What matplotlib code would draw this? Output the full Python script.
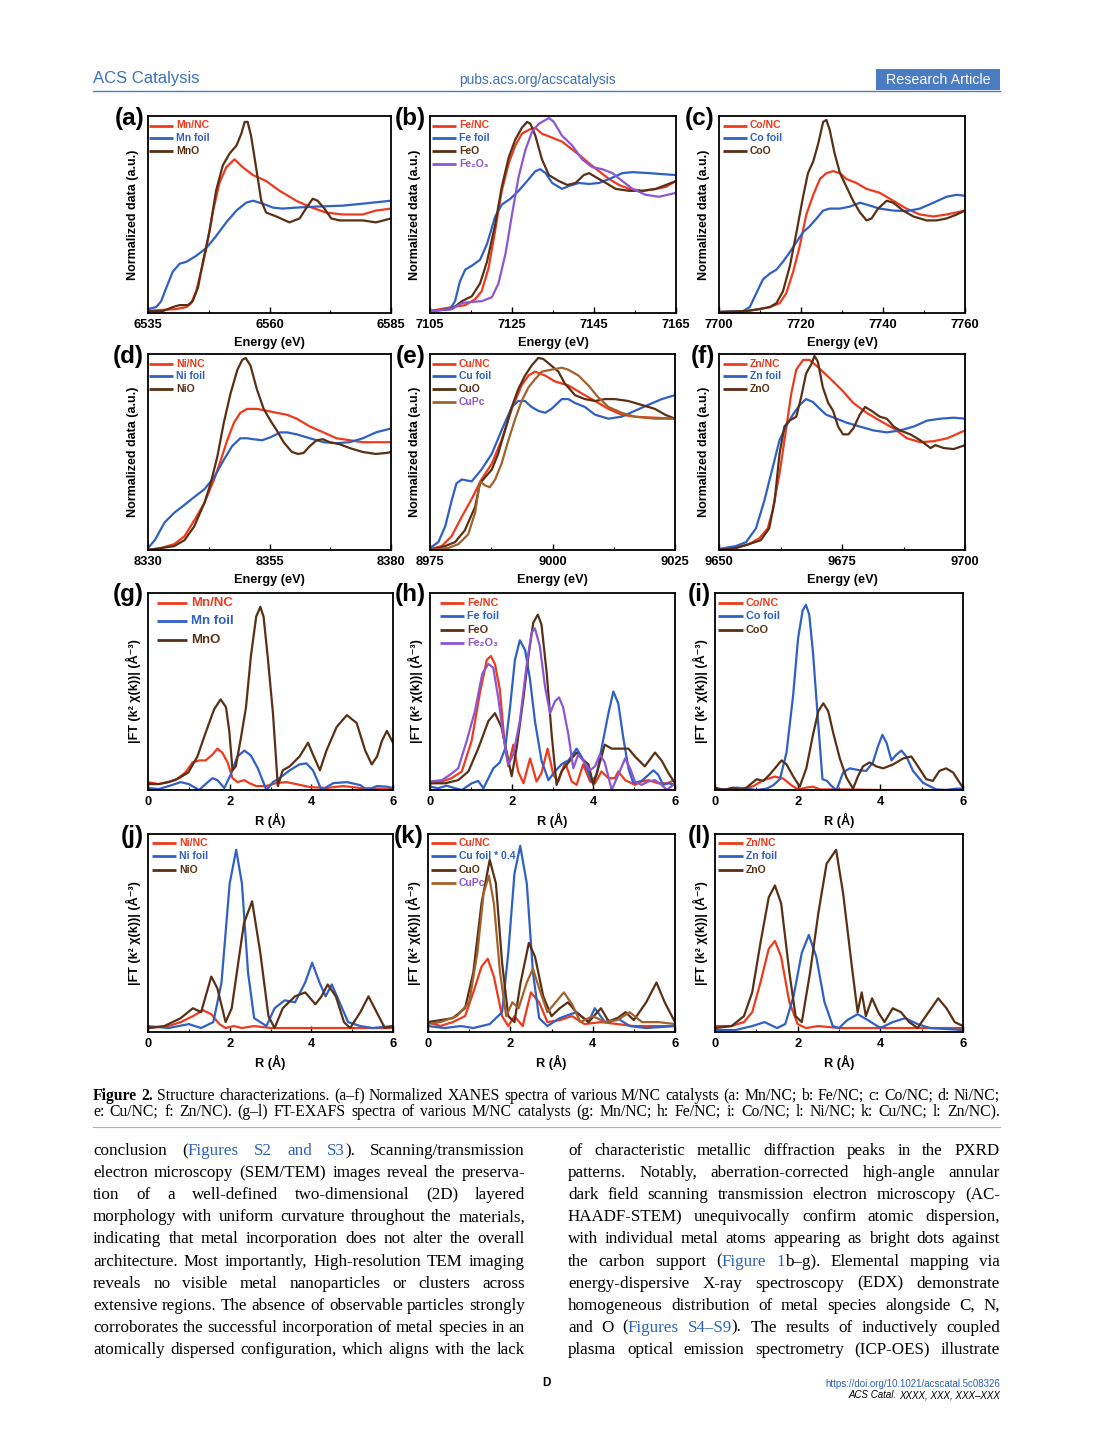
import re
import matplotlib
matplotlib.use('Agg')
import matplotlib.pyplot as plt
from matplotlib.lines import Line2D

# ---------------- DATA ----------------
# (a) Mn K-edge XANES
MnNC_E = [6535.0, 6537.4, 6540.8, 6542.9, 6543.9, 6544.9, 6546.3, 6547.0, 6548.4, 6549.7, 6551.1, 6552.8, 6554.5, 6556.6, 6559.3, 6562.1, 6565.5, 6568.2, 6571.6, 6575.1, 6579.2, 6581.9, 6585.0]
MnNC_mu = [0.01, 0.015, 0.02, 0.03, 0.05, 0.11, 0.25, 0.33, 0.52, 0.66, 0.74, 0.78, 0.74, 0.70, 0.67, 0.62, 0.57, 0.54, 0.51, 0.50, 0.50, 0.52, 0.53]
MnFoil_E = [6535.0, 6536.7, 6537.7, 6538.8, 6540.1, 6541.5, 6542.9, 6544.9, 6547.0, 6549.0, 6551.1, 6553.2, 6555.2, 6556.6, 6558.6, 6560.7, 6562.7, 6565.5, 6569.6, 6575.1, 6579.2, 6585.0]
MnFoil_mu = [0.02, 0.03, 0.06, 0.13, 0.21, 0.25, 0.26, 0.29, 0.33, 0.39, 0.46, 0.52, 0.56, 0.57, 0.555, 0.535, 0.53, 0.535, 0.54, 0.545, 0.555, 0.57]
MnO_E = [6535.0, 6538.1, 6540.1, 6541.5, 6543.2, 6544.2, 6545.3, 6546.3, 6547.7, 6549.0, 6550.4, 6551.8, 6553.2, 6554.2, 6554.9, 6555.5, 6556.2, 6557.3, 6558.3, 6559.3, 6561.4, 6564.1, 6566.2, 6567.5, 6568.9, 6569.9, 6571.3, 6572.7, 6574.4, 6576.4, 6579.2, 6581.9, 6585.0]
MnO_mu = [0.01, 0.01, 0.03, 0.04, 0.04, 0.06, 0.13, 0.26, 0.42, 0.62, 0.75, 0.81, 0.85, 0.91, 0.97, 0.97, 0.90, 0.73, 0.57, 0.51, 0.49, 0.46, 0.48, 0.53, 0.58, 0.57, 0.53, 0.48, 0.47, 0.47, 0.47, 0.46, 0.48]

# (b) Fe K-edge XANES
FeNC_E = [7105.0, 7110.3, 7113.6, 7116.0, 7117.6, 7119.3, 7120.9, 7122.5, 7124.2, 7125.8, 7127.4, 7129.1, 7130.7, 7132.3, 7134.8, 7137.2, 7139.7, 7142.1, 7143.8, 7146.2, 7148.7, 7151.1, 7153.6, 7156.8, 7160.1, 7162.5, 7165.0]
FeNC_mu = [0.01, 0.03, 0.04, 0.07, 0.11, 0.23, 0.42, 0.62, 0.76, 0.85, 0.91, 0.93, 0.94, 0.91, 0.89, 0.87, 0.83, 0.79, 0.76, 0.72, 0.68, 0.65, 0.63, 0.62, 0.63, 0.64, 0.67]
FeFoil_E = [7105.0, 7109.9, 7111.1, 7112.3, 7113.6, 7115.2, 7117.2, 7118.9, 7120.9, 7122.5, 7124.6, 7126.6, 7128.7, 7130.7, 7131.9, 7133.2, 7134.8, 7137.2, 7138.9, 7141.3, 7143.8, 7146.2, 7148.7, 7151.9, 7154.4, 7158.4, 7161.7, 7165.0]
FeFoil_mu = [0.01, 0.02, 0.06, 0.16, 0.22, 0.24, 0.27, 0.35, 0.49, 0.55, 0.58, 0.62, 0.67, 0.72, 0.73, 0.71, 0.66, 0.63, 0.645, 0.66, 0.655, 0.66, 0.68, 0.71, 0.715, 0.71, 0.705, 0.70]
FeO_E = [7105.0, 7110.3, 7112.8, 7115.2, 7117.2, 7118.9, 7120.9, 7122.5, 7124.2, 7125.8, 7127.4, 7128.7, 7129.5, 7130.7, 7132.3, 7134.0, 7136.4, 7138.5, 7140.5, 7142.5, 7143.8, 7145.4, 7147.9, 7150.3, 7153.6, 7156.8, 7160.1, 7165.0]
FeO_mu = [0.01, 0.02, 0.06, 0.085, 0.15, 0.26, 0.45, 0.64, 0.79, 0.88, 0.94, 0.97, 0.96, 0.90, 0.78, 0.70, 0.67, 0.65, 0.66, 0.70, 0.71, 0.69, 0.66, 0.63, 0.62, 0.62, 0.63, 0.67]
Fe2O3_E = [7105.0, 7110.3, 7112.8, 7114.4, 7117.6, 7120.1, 7121.7, 7123.4, 7125.0, 7126.6, 7128.3, 7129.9, 7131.5, 7133.2, 7134.0, 7135.2, 7137.2, 7139.7, 7142.1, 7144.6, 7147.0, 7149.5, 7151.9, 7154.4, 7157.6, 7160.9, 7165.0]
Fe2O3_mu = [0.01, 0.02, 0.05, 0.055, 0.06, 0.08, 0.15, 0.30, 0.50, 0.69, 0.83, 0.92, 0.96, 0.98, 0.99, 0.97, 0.90, 0.85, 0.78, 0.74, 0.73, 0.71, 0.67, 0.63, 0.60, 0.59, 0.61]

# (c) Co K-edge XANES
CoNC_E = [7700.0, 7706.7, 7709.9, 7712.4, 7714.8, 7716.4, 7718.1, 7719.7, 7721.3, 7723.0, 7724.6, 7726.2, 7727.8, 7729.5, 7731.1, 7733.5, 7736.0, 7739.2, 7742.5, 7745.7, 7749.0, 7752.3, 7755.5, 7760.0]
CoNC_mu = [0.005, 0.01, 0.02, 0.03, 0.05, 0.10, 0.21, 0.34, 0.50, 0.60, 0.68, 0.71, 0.72, 0.71, 0.68, 0.66, 0.63, 0.61, 0.57, 0.53, 0.50, 0.49, 0.50, 0.52]
CoFoil_E = [7700.0, 7705.9, 7707.5, 7709.1, 7710.7, 7712.4, 7714.0, 7715.6, 7717.3, 7718.9, 7720.5, 7722.1, 7723.8, 7725.4, 7727.0, 7729.5, 7731.9, 7734.4, 7736.0, 7739.2, 7742.5, 7745.7, 7749.0, 7752.3, 7755.5, 7758.0, 7760.0]
CoFoil_mu = [0.005, 0.01, 0.03, 0.10, 0.17, 0.20, 0.22, 0.26, 0.31, 0.36, 0.41, 0.44, 0.48, 0.52, 0.53, 0.53, 0.54, 0.56, 0.55, 0.53, 0.52, 0.517, 0.53, 0.56, 0.59, 0.60, 0.595]
CoO_E = [7700.0, 7706.7, 7709.9, 7712.4, 7714.0, 7715.6, 7717.3, 7718.9, 7720.5, 7721.7, 7723.0, 7724.2, 7725.4, 7726.2, 7727.0, 7728.2, 7729.5, 7731.1, 7732.7, 7734.4, 7736.0, 7737.2, 7738.8, 7740.9, 7742.5, 7744.9, 7747.4, 7750.6, 7753.1, 7755.5, 7758.0, 7760.0]
CoO_mu = [0.005, 0.01, 0.02, 0.03, 0.05, 0.11, 0.24, 0.41, 0.59, 0.71, 0.77, 0.86, 0.97, 0.98, 0.93, 0.81, 0.71, 0.64, 0.57, 0.51, 0.47, 0.48, 0.53, 0.57, 0.56, 0.52, 0.49, 0.47, 0.47, 0.48, 0.50, 0.52]

# (d) Ni K-edge XANES
NiNC_E = [8330.0, 8332.7, 8335.4, 8337.5, 8339.5, 8341.6, 8343.6, 8345.0, 8346.3, 8347.7, 8349.0, 8350.4, 8352.4, 8354.5, 8356.5, 8358.6, 8360.6, 8363.3, 8366.1, 8368.8, 8371.5, 8374.2, 8376.9, 8380.0]
NiNC_mu = [0.0, 0.01, 0.03, 0.07, 0.15, 0.24, 0.36, 0.46, 0.56, 0.65, 0.70, 0.72, 0.72, 0.71, 0.70, 0.69, 0.67, 0.63, 0.60, 0.57, 0.56, 0.55, 0.55, 0.55]
NiFoil_E = [8330.0, 8331.4, 8333.4, 8335.4, 8337.5, 8339.5, 8341.6, 8343.6, 8345.6, 8347.3, 8349.0, 8350.4, 8351.7, 8353.5, 8355.2, 8357.2, 8358.6, 8360.6, 8363.3, 8366.1, 8368.8, 8371.5, 8374.2, 8376.9, 8380.0]
NiFoil_mu = [0.01, 0.05, 0.14, 0.19, 0.23, 0.27, 0.31, 0.37, 0.46, 0.53, 0.57, 0.57, 0.565, 0.56, 0.575, 0.60, 0.60, 0.59, 0.57, 0.55, 0.545, 0.55, 0.57, 0.60, 0.62]
NiO_E = [8330.0, 8332.7, 8335.4, 8337.5, 8339.5, 8341.6, 8342.9, 8344.3, 8345.6, 8347.0, 8348.4, 8349.4, 8350.1, 8351.1, 8352.4, 8353.8, 8355.2, 8356.5, 8357.9, 8359.6, 8360.9, 8362.0, 8363.3, 8364.7, 8366.0, 8367.4, 8369.4, 8371.5, 8374.2, 8376.9, 8379.0, 8380.0]
NiO_mu = [0.0, 0.01, 0.02, 0.05, 0.12, 0.24, 0.34, 0.48, 0.65, 0.80, 0.92, 0.97, 0.98, 0.94, 0.82, 0.72, 0.66, 0.61, 0.55, 0.50, 0.49, 0.495, 0.53, 0.56, 0.565, 0.55, 0.54, 0.52, 0.50, 0.49, 0.495, 0.50]

# (e) Cu K-edge XANES
CuNC_E = [8975.0, 8977.4, 8979.4, 8981.5, 8983.5, 8985.5, 8987.6, 8989.6, 8991.7, 8993.7, 8995.1, 8996.4, 8998.5, 9000.5, 9003.2, 9005.9, 9008.7, 9011.4, 9014.1, 9016.8, 9020.9, 9025.0]
CuNC_mu = [0.005, 0.02, 0.07, 0.17, 0.26, 0.36, 0.44, 0.56, 0.72, 0.84, 0.89, 0.91, 0.89, 0.86, 0.84, 0.80, 0.76, 0.72, 0.69, 0.68, 0.675, 0.67]
CuFoil_E = [8975.0, 8976.7, 8978.1, 8979.4, 8980.4, 8981.5, 8983.5, 8985.5, 8987.6, 8989.6, 8991.7, 8993.0, 8994.4, 8995.7, 8997.1, 8998.5, 8999.8, 9001.9, 9003.2, 9004.6, 9006.6, 9008.7, 9011.4, 9014.1, 9016.8, 9019.5, 9022.3, 9025.0]
CuFoil_mu = [0.01, 0.04, 0.12, 0.25, 0.34, 0.36, 0.35, 0.41, 0.49, 0.61, 0.73, 0.76, 0.76, 0.73, 0.71, 0.70, 0.72, 0.77, 0.77, 0.75, 0.73, 0.69, 0.67, 0.68, 0.71, 0.74, 0.77, 0.79]
CuO_E = [8975.0, 8978.1, 8980.1, 8982.1, 8984.2, 8985.2, 8986.2, 8987.6, 8988.9, 8990.3, 8991.7, 8993.0, 8994.4, 8995.7, 8997.1, 8998.1, 8999.8, 9001.2, 9002.5, 9004.6, 9006.6, 9008.7, 9010.7, 9012.7, 9015.5, 9018.2, 9020.9, 9023.0, 9025.0]
CuO_mu = [0.0, 0.02, 0.04, 0.10, 0.22, 0.34, 0.37, 0.41, 0.49, 0.61, 0.73, 0.82, 0.89, 0.94, 0.98, 0.975, 0.94, 0.91, 0.85, 0.79, 0.77, 0.76, 0.77, 0.77, 0.76, 0.74, 0.72, 0.69, 0.67]
CuPc_E = [8975.0, 8978.7, 8980.8, 8982.8, 8984.2, 8985.2, 8986.2, 8987.2, 8988.3, 8989.6, 8991.0, 8992.4, 8993.7, 8995.1, 8996.4, 8997.8, 8999.8, 9001.9, 9003.2, 9005.3, 9007.3, 9009.3, 9011.4, 9014.1, 9016.8, 9020.9, 9025.0]
CuPc_mu = [0.0, 0.01, 0.03, 0.08, 0.19, 0.35, 0.33, 0.32, 0.36, 0.44, 0.56, 0.67, 0.76, 0.83, 0.87, 0.91, 0.92, 0.93, 0.92, 0.89, 0.84, 0.78, 0.73, 0.70, 0.68, 0.67, 0.67]

# (f) Zn K-edge XANES
ZnNC_E = [9650.0, 9653.4, 9656.1, 9658.2, 9659.9, 9660.9, 9662.3, 9663.6, 9664.7, 9665.7, 9667.1, 9668.4, 9669.8, 9671.1, 9673.2, 9675.2, 9677.3, 9680.0, 9682.7, 9685.5, 9688.2, 9690.9, 9693.6, 9696.4, 9700.0]
ZnNC_mu = [0.005, 0.01, 0.03, 0.06, 0.11, 0.20, 0.39, 0.61, 0.80, 0.92, 0.97, 0.97, 0.94, 0.91, 0.86, 0.81, 0.75, 0.70, 0.66, 0.62, 0.57, 0.55, 0.555, 0.57, 0.61]
ZnFoil_E = [9650.0, 9653.4, 9655.5, 9657.5, 9659.2, 9660.9, 9662.3, 9663.6, 9665.0, 9666.4, 9667.7, 9669.1, 9670.5, 9671.8, 9673.9, 9675.9, 9678.6, 9681.4, 9684.1, 9686.8, 9689.6, 9692.3, 9695.0, 9697.7, 9700.0]
ZnFoil_mu = [0.005, 0.02, 0.04, 0.11, 0.25, 0.42, 0.56, 0.63, 0.69, 0.74, 0.77, 0.755, 0.72, 0.69, 0.67, 0.65, 0.63, 0.61, 0.60, 0.61, 0.63, 0.66, 0.67, 0.675, 0.67]
ZnO_E = [9650.0, 9653.4, 9656.1, 9658.5, 9660.2, 9661.3, 9662.3, 9663.3, 9664.3, 9665.7, 9666.7, 9667.7, 9668.8, 9669.4, 9670.1, 9671.1, 9672.2, 9673.2, 9674.2, 9675.2, 9676.3, 9677.3, 9678.6, 9679.7, 9681.0, 9682.7, 9684.1, 9685.5, 9686.8, 9688.9, 9690.9, 9693.0, 9694.0, 9695.7, 9697.7, 9700.0]
ZnO_mu = [0.0, 0.01, 0.03, 0.05, 0.11, 0.25, 0.49, 0.63, 0.66, 0.68, 0.78, 0.90, 0.95, 0.99, 0.96, 0.83, 0.75, 0.71, 0.63, 0.59, 0.59, 0.62, 0.69, 0.73, 0.71, 0.68, 0.67, 0.63, 0.61, 0.59, 0.56, 0.52, 0.535, 0.52, 0.515, 0.535]

# (g) Mn FT-EXAFS
gR_MnNC = [0.0, 0.26, 0.67, 0.92, 1.09, 1.25, 1.41, 1.58, 1.70, 1.82, 1.95, 2.07, 2.19, 2.36, 2.48, 2.65, 2.89, 3.14, 3.39, 3.63, 3.96, 4.37, 4.78, 5.20, 5.61, 6.0]
gFT_MnNC = [0.04, 0.03, 0.05, 0.09, 0.14, 0.15, 0.15, 0.18, 0.21, 0.19, 0.14, 0.06, 0.04, 0.05, 0.035, 0.02, 0.02, 0.035, 0.04, 0.03, 0.015, 0.01, 0.02, 0.01, 0.007, 0.005]
gR_MnFoil = [0.0, 0.26, 0.51, 0.80, 1.00, 1.25, 1.41, 1.58, 1.70, 1.87, 2.03, 2.19, 2.36, 2.52, 2.69, 2.90, 3.06, 3.22, 3.47, 3.71, 3.88, 4.04, 4.25, 4.54, 4.87, 5.20, 5.36, 5.61, 5.85, 6.0]
gFT_MnFoil = [0.01, 0.005, 0.02, 0.04, 0.03, 0.0, 0.03, 0.06, 0.05, 0.01, 0.08, 0.17, 0.20, 0.175, 0.11, 0.0, 0.04, 0.06, 0.10, 0.13, 0.135, 0.10, 0.0, 0.035, 0.04, 0.025, 0.0, 0.02, 0.017, 0.01]
gR_MnO = [0.0, 0.26, 0.51, 0.76, 0.99, 1.21, 1.41, 1.62, 1.78, 1.91, 1.99, 2.07, 2.15, 2.28, 2.40, 2.52, 2.65, 2.75, 2.83, 2.93, 3.06, 3.18, 3.30, 3.47, 3.71, 3.92, 4.04, 4.21, 4.37, 4.62, 4.87, 5.11, 5.32, 5.48, 5.61, 5.73, 5.85, 6.0]
gFT_MnO = [0.03, 0.03, 0.04, 0.06, 0.09, 0.17, 0.29, 0.41, 0.46, 0.42, 0.30, 0.10, 0.12, 0.27, 0.42, 0.68, 0.88, 0.93, 0.88, 0.68, 0.39, 0.02, 0.10, 0.12, 0.17, 0.24, 0.18, 0.10, 0.20, 0.32, 0.38, 0.34, 0.20, 0.13, 0.17, 0.25, 0.30, 0.24]

# (h) Fe FT-EXAFS
hR_FeNC = [0.0, 0.29, 0.53, 0.78, 1.02, 1.22, 1.39, 1.49, 1.59, 1.71, 1.84, 1.92, 2.04, 2.16, 2.29, 2.45, 2.61, 2.73, 2.88, 3.02, 3.14, 3.31, 3.47, 3.59, 3.75, 3.92, 4.04, 4.20, 4.37, 4.53, 4.61, 4.78, 5.02, 5.18, 5.35, 5.59, 5.80, 6.0]
hFT_FeNC = [0.034, 0.043, 0.06, 0.094, 0.25, 0.49, 0.66, 0.68, 0.64, 0.51, 0.21, 0.12, 0.23, 0.094, 0.034, 0.16, 0.043, 0.086, 0.21, 0.077, 0.043, 0.14, 0.043, 0.026, 0.13, 0.043, 0.034, 0.094, 0.06, 0.06, 0.094, 0.05, 0.026, 0.043, 0.05, 0.034, 0.034, 0.05]
hR_FeFoil = [0.0, 0.20, 0.41, 0.61, 0.78, 1.02, 1.18, 1.31, 1.39, 1.55, 1.71, 1.84, 1.96, 2.08, 2.20, 2.33, 2.45, 2.57, 2.73, 2.90, 3.06, 3.22, 3.39, 3.59, 3.71, 3.84, 3.96, 4.08, 4.20, 4.37, 4.49, 4.61, 4.73, 4.86, 4.98, 5.18, 5.35, 5.47, 5.59, 5.71, 5.84, 6.0]
hFT_FeFoil = [0.017, 0.009, 0.022, 0.009, 0.0, 0.034, 0.046, 0.009, 0.043, 0.11, 0.14, 0.21, 0.42, 0.66, 0.76, 0.71, 0.56, 0.35, 0.15, 0.05, 0.094, 0.13, 0.15, 0.21, 0.17, 0.11, 0.043, 0.077, 0.21, 0.39, 0.50, 0.44, 0.27, 0.11, 0.034, 0.046, 0.077, 0.10, 0.077, 0.026, 0.034, 0.026]
hR_FeO = [0.0, 0.37, 0.69, 0.94, 1.18, 1.43, 1.59, 1.75, 1.92, 2.00, 2.12, 2.29, 2.41, 2.53, 2.64, 2.73, 2.86, 2.98, 3.10, 3.22, 3.39, 3.59, 3.71, 3.88, 4.00, 4.12, 4.28, 4.45, 4.69, 4.86, 5.02, 5.26, 5.51, 5.67, 5.84, 6.0]
hFT_FeO = [0.034, 0.034, 0.05, 0.094, 0.21, 0.35, 0.39, 0.32, 0.15, 0.07, 0.21, 0.47, 0.68, 0.85, 0.89, 0.84, 0.59, 0.28, 0.026, 0.094, 0.14, 0.19, 0.16, 0.13, 0.026, 0.11, 0.23, 0.21, 0.21, 0.21, 0.17, 0.12, 0.19, 0.15, 0.086, 0.034]
hR_Fe2O3 = [0.0, 0.29, 0.49, 0.69, 0.90, 1.10, 1.28, 1.43, 1.55, 1.67, 1.80, 1.92, 2.04, 2.20, 2.37, 2.49, 2.57, 2.69, 2.82, 2.94, 3.06, 3.16, 3.26, 3.39, 3.51, 3.63, 3.75, 3.92, 4.04, 4.16, 4.28, 4.45, 4.61, 4.78, 4.90, 5.02, 5.18, 5.35, 5.51, 5.67, 5.80, 6.0]
hFT_Fe2O3 = [0.043, 0.05, 0.077, 0.11, 0.25, 0.40, 0.59, 0.64, 0.62, 0.47, 0.27, 0.13, 0.18, 0.35, 0.64, 0.80, 0.82, 0.73, 0.52, 0.39, 0.45, 0.47, 0.42, 0.28, 0.11, 0.18, 0.15, 0.10, 0.12, 0.18, 0.14, 0.0, 0.077, 0.16, 0.11, 0.043, 0.026, 0.043, 0.05, 0.026, 0.0, 0.034]

# (i) Co FT-EXAFS
iR_CoNC = [0.0, 0.36, 0.68, 0.93, 1.17, 1.45, 1.65, 1.85, 2.01, 2.21, 2.37, 2.54, 3.18, 3.98, 4.79, 6.0]
iFT_CoNC = [0.003, 0.0, 0.003, 0.02, 0.05, 0.068, 0.058, 0.024, 0.003, 0.012, 0.017, 0.003, 0.003, 0.0, 0.0, 0.0]
iR_CoFoil = [0.0, 0.28, 0.52, 0.76, 1.01, 1.25, 1.41, 1.57, 1.73, 1.89, 2.01, 2.12, 2.20, 2.28, 2.37, 2.50, 2.60, 2.71, 2.82, 2.94, 3.10, 3.26, 3.50, 3.66, 3.82, 3.94, 4.05, 4.15, 4.27, 4.39, 4.51, 4.63, 4.79, 5.03, 5.35, 5.59, 5.84, 6.0]
iFT_CoFoil = [0.007, 0.003, 0.012, 0.007, 0.0, 0.007, 0.024, 0.055, 0.19, 0.48, 0.77, 0.91, 0.94, 0.89, 0.70, 0.33, 0.055, 0.046, 0.02, 0.0, 0.089, 0.11, 0.10, 0.097, 0.14, 0.22, 0.28, 0.24, 0.15, 0.18, 0.20, 0.17, 0.097, 0.037, 0.003, 0.0, 0.007, 0.007]
iR_CoO = [0.0, 0.20, 0.44, 0.60, 0.76, 1.01, 1.17, 1.33, 1.49, 1.61, 1.73, 1.89, 2.05, 2.21, 2.37, 2.50, 2.62, 2.74, 2.86, 3.02, 3.18, 3.34, 3.46, 3.58, 3.74, 3.90, 4.07, 4.31, 4.55, 4.75, 4.91, 5.11, 5.27, 5.43, 5.59, 5.76, 5.92, 6.0]
iFT_CoO = [0.012, 0.0, 0.012, 0.0, 0.012, 0.055, 0.046, 0.08, 0.12, 0.15, 0.13, 0.07, 0.017, 0.11, 0.28, 0.40, 0.44, 0.40, 0.29, 0.16, 0.063, 0.007, 0.07, 0.12, 0.14, 0.12, 0.11, 0.13, 0.16, 0.17, 0.12, 0.055, 0.046, 0.097, 0.11, 0.089, 0.037, 0.012]

# (j) Ni FT-EXAFS
jR_NiNC = [0, 0.5, 0.8, 1.1, 1.35, 1.55, 1.75, 1.9, 2.1, 2.3, 2.6, 3.0, 4.0, 5.0, 6.0]
jFT_NiNC = [0.02, 0.03, 0.05, 0.08, 0.11, 0.09, 0.04, 0.02, 0.03, 0.02, 0.03, 0.02, 0.02, 0.02, 0.02]
jR_NiFoil = [0, 0.5, 1.0, 1.3, 1.6, 1.8, 2.0, 2.16, 2.3, 2.45, 2.6, 2.75, 2.9, 3.1, 3.35, 3.6, 3.85, 4.02, 4.2, 4.35, 4.5, 4.65, 4.9, 5.2, 5.5, 6.0]
jFT_NiFoil = [0.03, 0.02, 0.04, 0.02, 0.05, 0.25, 0.75, 0.92, 0.75, 0.30, 0.07, 0.05, 0.03, 0.12, 0.16, 0.15, 0.25, 0.35, 0.25, 0.18, 0.24, 0.17, 0.05, 0.03, 0.02, 0.03]
jR_NiO = [0, 0.4, 0.8, 1.1, 1.3, 1.55, 1.7, 1.9, 2.05, 2.35, 2.55, 2.75, 2.95, 3.1, 3.3, 3.6, 3.85, 4.1, 4.25, 4.4, 4.6, 4.8, 4.95, 5.2, 5.4, 5.6, 5.8, 6.0]
jFT_NiO = [0.02, 0.03, 0.07, 0.12, 0.10, 0.28, 0.22, 0.05, 0.12, 0.55, 0.66, 0.40, 0.08, 0.02, 0.12, 0.18, 0.20, 0.14, 0.18, 0.24, 0.18, 0.05, 0.02, 0.10, 0.18, 0.10, 0.02, 0.03]

# (k) Cu FT-EXAFS
kR_CuNC = [0, 0.3, 0.6, 0.9, 1.1, 1.3, 1.45, 1.6, 1.8, 1.95, 2.1, 2.3, 2.5, 2.7, 2.9, 3.2, 3.5, 3.8, 4.2, 4.6, 5.0, 5.5, 6.0]
kFT_CuNC = [0.05, 0.03, 0.05, 0.08, 0.20, 0.33, 0.37, 0.28, 0.08, 0.03, 0.08, 0.03, 0.20, 0.15, 0.05, 0.06, 0.08, 0.04, 0.05, 0.04, 0.03, 0.03, 0.03]
kR_CuFoil = [0, 0.4, 0.8, 1.1, 1.5, 1.8, 1.95, 2.1, 2.24, 2.4, 2.55, 2.7, 2.9, 3.2, 3.6, 3.9, 4.05, 4.3, 4.6, 4.9, 5.3, 6.0]
kFT_CuFoil = [0.03, 0.02, 0.03, 0.02, 0.04, 0.10, 0.40, 0.80, 0.94, 0.75, 0.30, 0.07, 0.03, 0.07, 0.10, 0.05, 0.12, 0.05, 0.07, 0.03, 0.02, 0.03]
kR_CuO = [0, 0.3, 0.6, 0.9, 1.1, 1.3, 1.5, 1.65, 1.8, 1.95, 2.1, 2.25, 2.45, 2.6, 2.8, 3.0, 3.2, 3.4, 3.6, 3.9, 4.2, 4.4, 4.6, 4.8, 5.0, 5.3, 5.55, 5.75, 6.0]
kFT_CuO = [0.05, 0.06, 0.07, 0.12, 0.30, 0.65, 0.87, 0.75, 0.35, 0.08, 0.05, 0.25, 0.45, 0.38, 0.18, 0.08, 0.12, 0.15, 0.10, 0.05, 0.12, 0.05, 0.07, 0.10, 0.06, 0.15, 0.25, 0.15, 0.05]
kR_CuPc = [0, 0.3, 0.7, 1.0, 1.2, 1.35, 1.48, 1.6, 1.75, 1.9, 2.05, 2.2, 2.4, 2.55, 2.7, 2.9, 3.1, 3.3, 3.5, 3.7, 4.0, 4.3, 4.6, 4.9, 5.2, 5.6, 6.0]
kFT_CuPc = [0.04, 0.05, 0.08, 0.15, 0.40, 0.70, 0.79, 0.65, 0.30, 0.08, 0.15, 0.12, 0.25, 0.32, 0.22, 0.10, 0.15, 0.20, 0.14, 0.05, 0.08, 0.05, 0.06, 0.10, 0.05, 0.05, 0.04]

# (l) Zn FT-EXAFS
lR_ZnNC = [0, 0.4, 0.7, 0.9, 1.1, 1.3, 1.45, 1.6, 1.8, 2.0, 2.2, 2.5, 3.0, 4.0, 5.0, 6.0]
lFT_ZnNC = [0.03, 0.03, 0.05, 0.10, 0.25, 0.42, 0.46, 0.38, 0.15, 0.04, 0.02, 0.03, 0.02, 0.02, 0.02, 0.02]
lR_ZnFoil = [0, 0.5, 0.9, 1.2, 1.5, 1.7, 1.9, 2.1, 2.27, 2.45, 2.65, 2.85, 3.0, 3.2, 3.45, 3.7, 4.0, 4.3, 4.6, 4.9, 5.2, 6.0]
lFT_ZnFoil = [0.01, 0.01, 0.03, 0.05, 0.02, 0.04, 0.18, 0.40, 0.49, 0.38, 0.15, 0.03, 0.02, 0.06, 0.09, 0.06, 0.02, 0.05, 0.07, 0.04, 0.02, 0.01]
lR_ZnO = [0, 0.4, 0.7, 0.9, 1.1, 1.3, 1.45, 1.6, 1.8, 1.95, 2.1, 2.3, 2.5, 2.7, 2.93, 3.1, 3.3, 3.45, 3.55, 3.65, 3.8, 3.95, 4.1, 4.3, 4.5, 4.7, 4.9, 5.1, 5.4, 5.6, 5.8, 6.0]
lFT_ZnO = [0.02, 0.03, 0.08, 0.20, 0.45, 0.68, 0.74, 0.65, 0.30, 0.08, 0.05, 0.30, 0.60, 0.85, 0.92, 0.70, 0.35, 0.10, 0.20, 0.08, 0.17, 0.10, 0.05, 0.12, 0.10, 0.05, 0.02, 0.08, 0.17, 0.12, 0.05, 0.03]

# tick labels
xanes_ticks = {'a': [6535, 6560, 6585], 'b': [7105, 7125, 7145, 7165], 'c': [7700, 7720, 7740, 7760],
               'd': [8330, 8355, 8380], 'e': [8975, 9000, 9025], 'f': [9650, 9675, 9700]}
exafs_ticks = [0, 2, 4, 6]

# ---------------- STYLE ----------------
RED = '#ee3a1d'
BLUE = '#2f60c6'
BROWN = '#5a3014'
PURPLE = '#8c56d4'
LBROWN = '#a3622c'
LINK = '#2a62b8'
HEAD = '#3a72bb'

W, H = 1094, 1442
plt.rcParams['font.family'] = ['Liberation Sans', 'DejaVu Sans']
fig = plt.figure(figsize=(W / 100, H / 100), dpi=100)
fig.patch.set_facecolor('white')


def fx(x):
    return x / W


def fy(y):
    return 1 - y / H


def make_ax(box):
    l, t, r, b = box
    return fig.add_axes([fx(l), fy(b), (r - l) / W, (b - t) / H])


def setup(ax, box, xlim, ticks, xlabel, ylabel, letter, minor):
    l, t, r, b = box
    wpx, hpx = r - l, b - t
    ax.set_xlim(*xlim)
    ax.set_ylim(0, 1)
    ax.set_yticks([])
    ax.set_xticks(ticks)
    ax.set_xticklabels([str(v) for v in ticks], fontweight='bold', fontsize=9.3)
    ax.set_xticks(minor, minor=True)
    ax.tick_params(axis='x', which='major', direction='in', length=4, width=1.0, pad=4.5)
    ax.tick_params(axis='x', which='minor', direction='in', length=2.5, width=0.8)
    for s in ax.spines.values():
        s.set_linewidth(1.3)
    ax.set_xlabel(xlabel, fontsize=9.2, fontweight='bold')
    ax.xaxis.set_label_coords(0.5, -30 / hpx)
    ax.xaxis.label.set_va('center')
    ax.set_ylabel(ylabel, fontsize=9.0, fontweight='bold')
    ax.yaxis.set_label_coords(-15 / wpx, 0.5)
    ax.yaxis.label.set_va('center')
    fig.text(fx(l - 4), fy(t + 2), letter, fontsize=17.5, fontweight='bold', ha='right', va='center')


def legend(ax, box, entries, x0, y0, dy, hlen, gap, fs):
    l, t, r, b = box
    wpx, hpx = r - l, b - t
    for i, (lab, lc, tc) in enumerate(entries):
        yy = 1 - (y0 + i * dy) / hpx
        ax.add_line(Line2D([x0 / wpx, (x0 + hlen) / wpx], [yy, yy], transform=ax.transAxes,
                           color=lc, lw=2.0, clip_on=False, solid_capstyle='butt'))
        ax.text((x0 + hlen + gap) / wpx, yy, lab, transform=ax.transAxes, color=tc,
                fontsize=fs, fontweight='bold', va='center', ha='left')


LW = 1.6
YX = 'Normalized data (a.u.)'
YR = '|FT (k² χ(k))| (Å⁻³)'

# ---- XANES panels ----
xanes = [
    ('(a)', [148, 116, 391, 313], (6535, 6585), xanes_ticks['a'], [6547.5, 6572.5],
     [(MnNC_E, MnNC_mu, RED, 'Mn/NC', RED), (MnFoil_E, MnFoil_mu, BLUE, 'Mn foil', BLUE), (MnO_E, MnO_mu, BROWN, 'MnO', BROWN)]),
    ('(b)', [430, 116, 676, 313], (7105, 7165), xanes_ticks['b'], [7115, 7135, 7155],
     [(FeNC_E, FeNC_mu, RED, 'Fe/NC', RED), (FeFoil_E, FeFoil_mu, BLUE, 'Fe foil', BLUE), (FeO_E, FeO_mu, BROWN, 'FeO', BROWN),
      (Fe2O3_E, Fe2O3_mu, PURPLE, 'Fe₂O₃', PURPLE)]),
    ('(c)', [719, 116, 965, 313], (7700, 7760), xanes_ticks['c'], [7710, 7730, 7750],
     [(CoNC_E, CoNC_mu, RED, 'Co/NC', RED), (CoFoil_E, CoFoil_mu, BLUE, 'Co foil', BLUE), (CoO_E, CoO_mu, BROWN, 'CoO', BROWN)]),
    ('(d)', [148, 354, 391, 550], (8330, 8380), xanes_ticks['d'], [8342.5, 8367.5],
     [(NiNC_E, NiNC_mu, RED, 'Ni/NC', RED), (NiFoil_E, NiFoil_mu, BLUE, 'Ni foil', BLUE), (NiO_E, NiO_mu, BROWN, 'NiO', BROWN)]),
    ('(e)', [430, 354, 675, 550], (8975, 9025), xanes_ticks['e'], [8987.5, 9012.5],
     [(CuNC_E, CuNC_mu, RED, 'Cu/NC', RED), (CuFoil_E, CuFoil_mu, BLUE, 'Cu foil', BLUE), (CuO_E, CuO_mu, BROWN, 'CuO', BROWN),
      (CuPc_E, CuPc_mu, LBROWN, 'CuPc', PURPLE)]),
    ('(f)', [719, 354, 965, 550], (9650, 9700), xanes_ticks['f'], [9662.5, 9687.5],
     [(ZnNC_E, ZnNC_mu, RED, 'Zn/NC', RED), (ZnFoil_E, ZnFoil_mu, BLUE, 'Zn foil', BLUE), (ZnO_E, ZnO_mu, BROWN, 'ZnO', BROWN)]),
]
for letter, box, xlim, ticks, minor, series in xanes:
    ax = make_ax(box)
    for xs, ys, c, lab, tc in series:
        ax.plot(xs, ys, color=c, lw=LW, solid_joinstyle='round', solid_capstyle='round')
    setup(ax, box, xlim, ticks, 'Energy (eV)', YX, letter, minor)
    lx = 1 if box[0] < 200 else (2 if box[0] < 500 else 4)
    legend(ax, box, [(s[3], s[2], s[4]) for s in series], lx, 9.5, 12.8, 24, 3, 7.5)

# ---- EXAFS panels ----
exafs = [
    ('(g)', [148, 593, 393, 790],
     [(gR_MnNC, gFT_MnNC, RED, 'Mn/NC', RED), (gR_MnFoil, gFT_MnFoil, BLUE, 'Mn foil', BLUE), (gR_MnO, gFT_MnO, BROWN, 'MnO', BROWN)],
     (9, 10, 18.3, 30, 4, 9.5)),
    ('(h)', [430, 593, 675, 790],
     [(hR_FeNC, hFT_FeNC, RED, 'Fe/NC', RED), (hR_FeFoil, hFT_FeFoil, BLUE, 'Fe foil', BLUE), (hR_FeO, hFT_FeO, BROWN, 'FeO', BROWN),
      (hR_Fe2O3, hFT_Fe2O3, PURPLE, 'Fe₂O₃', PURPLE)],
     (10, 10, 13.3, 24, 3, 7.8)),
    ('(i)', [715, 593, 963, 790],
     [(iR_CoNC, iFT_CoNC, RED, 'Co/NC', RED), (iR_CoFoil, iFT_CoFoil, BLUE, 'Co foil', BLUE), (iR_CoO, iFT_CoO, BROWN, 'CoO', BROWN)],
     (3, 10, 13.3, 25, 3, 7.8)),
    ('(j)', [148, 834, 393, 1032],
     [(jR_NiNC, jFT_NiNC, RED, 'Ni/NC', RED), (jR_NiFoil, jFT_NiFoil, BLUE, 'Ni foil', BLUE), (jR_NiO, jFT_NiO, BROWN, 'NiO', BROWN)],
     (4, 9, 13.3, 24, 3, 7.5)),
    ('(k)', [428, 834, 675, 1032],
     [(kR_CuNC, kFT_CuNC, RED, 'Cu/NC', RED), (kR_CuFoil, kFT_CuFoil, BLUE, 'Cu foil * 0.4', BLUE), (kR_CuO, kFT_CuO, BROWN, 'CuO', BROWN),
      (kR_CuPc, kFT_CuPc, LBROWN, 'CuPc', PURPLE)],
     (3, 9, 13.3, 25, 3, 7.5)),
    ('(l)', [715, 834, 963, 1032],
     [(lR_ZnNC, lFT_ZnNC, RED, 'Zn/NC', RED), (lR_ZnFoil, lFT_ZnFoil, BLUE, 'Zn foil', BLUE), (lR_ZnO, lFT_ZnO, BROWN, 'ZnO', BROWN)],
     (3, 9, 13.3, 25, 3, 7.5)),
]
for letter, box, series, lg in exafs:
    ax = make_ax(box)
    for xs, ys, c, lab, tc in series:
        ax.plot(xs, ys, color=c, lw=LW, solid_joinstyle='round', solid_capstyle='round')
    setup(ax, box, (0, 6), exafs_ticks, 'R (Å)', YR, letter, [1, 3, 5])
    x0, y0, dy, hl, gp, fs = lg
    legend(ax, box, [(s[3], s[2], s[4]) for s in series], x0, y0, dy, hl, gp, fs)

# ---------------- PAGE TEXT ----------------
fig.text(fx(93), fy(78), 'ACS Catalysis', fontsize=12, color=HEAD, ha='left', va='center', family=['Liberation Sans'])
fig.text(fx(537), fy(80), 'pubs.acs.org/acscatalysis', fontsize=9.9, color=HEAD, ha='center', va='center', family=['Liberation Sans'])
fig.patches.append(plt.Rectangle((fx(876), fy(90)), (1000 - 876) / W, 21 / H, transform=fig.transFigure,
                                 facecolor='#4a7cc3', edgecolor='none'))
fig.text(fx(938), fy(79.5), 'Research Article', fontsize=10.3, color='white', ha='center', va='center', family=['Liberation Sans'])
fig.add_artist(Line2D([fx(93), fx(1000)], [fy(91), fy(91)], transform=fig.transFigure, color='#4a7cc3', lw=1.0))
fig.add_artist(Line2D([fx(93), fx(1000)], [fy(1127), fy(1127)], transform=fig.transFigure, color='#9db3d3', lw=0.8))

renderer = fig.canvas.get_renderer()
SERIF = ['Liberation Serif', 'DejaVu Serif']


def parse(line):
    words = []
    for w in line.split(' '):
        segs = []
        for m in re.finditer(r'\{([^}]*)\}|<([^>]*)>|([^{<]+)', w):
            if m.group(1) is not None:
                segs.append((m.group(1), 'blue'))
            elif m.group(2) is not None:
                segs.append((m.group(2), 'bold'))
            else:
                segs.append((m.group(3), 'plain'))
        words.append(segs)
    return words


def text_width(s, fs, weight):
    t = fig.text(0, 0, s, fontsize=fs, family=SERIF, fontweight=weight)
    w = t.get_window_extent(renderer).width
    t.remove()
    return w


def make_words(line, fs):
    """Return list of words; each word = (list of (Text, x_offset), word_width)."""
    items = []
    total = 0.0
    for segs in parse(line):
        weight = 'bold' if any(st == 'bold' for _, st in segs) else 'normal'
        full = ''.join(s for s, _ in segs)
        wfull = text_width(full, fs, weight)
        parts = []
        prefix = ''
        for s, st in segs:
            off = text_width(prefix, fs, weight) if prefix else 0.0
            t = fig.text(0, 0, s, fontsize=fs, family=SERIF, fontweight=weight,
                         color=LINK if st == 'blue' else 'black', va='baseline', ha='left')
            parts.append((t, off))
            prefix += s
        items.append((parts, wfull))
        total += wfull
    return items, total


def fit_size(lines, width, base=10.0):
    best = 1e9
    for ln in lines:
        items, total = make_words(ln, base)
        nat = total + (len(items) - 1) * 0.25 * base * 100 / 72
        best = min(best, width / nat)
        for parts, _ in items:
            for t, _ in parts:
                t.remove()
    return base * best * 0.995


def justified(line, x0, x1, y, fs):
    items, total = make_words(line, fs)
    n = len(items)
    gap = (x1 - x0 - total) / (n - 1) if n > 1 else 0
    x = x0
    for parts, wfull in items:
        for t, off in parts:
            t.set_position((fx(x + off), fy(y)))
        x += wfull + gap


caption = [
    '<Figure> <2.> Structure characterizations. (a–f) Normalized XANES spectra of various M/NC catalysts (a: Mn/NC; b: Fe/NC; c: Co/NC; d: Ni/NC;',
    'e: Cu/NC; f: Zn/NC). (g–l) FT-EXAFS spectra of various M/NC catalysts (g: Mn/NC; h: Fe/NC; i: Co/NC; l: Ni/NC; k: Cu/NC; l: Zn/NC).',
]
cap_fs = fit_size(caption, 907)
for i, ln in enumerate(caption):
    justified(ln, 93, 1000, 1100 + i * 16, cap_fs)

left_col = [
    'conclusion ({Figures} {S2} {and} {S3}). Scanning/transmission',
    'electron microscopy (SEM/TEM) images reveal the preserva-',
    'tion of a well-defined two-dimensional (2D) layered',
    'morphology with uniform curvature throughout the materials,',
    'indicating that metal incorporation does not alter the overall',
    'architecture. Most importantly, High-resolution TEM imaging',
    'reveals no visible metal nanoparticles or clusters across',
    'extensive regions. The absence of observable particles strongly',
    'corroborates the successful incorporation of metal species in an',
    'atomically dispersed configuration, which aligns with the lack',
]
right_col = [
    'of characteristic metallic diffraction peaks in the PXRD',
    'patterns. Notably, aberration-corrected high-angle annular',
    'dark field scanning transmission electron microscopy (AC-',
    'HAADF-STEM) unequivocally confirm atomic dispersion,',
    'with individual metal atoms appearing as bright dots against',
    'the carbon support ({Figure} {1}b–g). Elemental mapping via',
    'energy-dispersive X-ray spectroscopy (EDX) demonstrate',
    'homogeneous distribution of metal species alongside C, N,',
    'and O ({Figures} {S4–S9}). The results of inductively coupled',
    'plasma optical emission spectrometry (ICP-OES) illustrate',
]
body_fs = fit_size(left_col + right_col, 432)
for i, ln in enumerate(left_col):
    justified(ln, 93, 525, 1155 + i * 22.1, body_fs)
for i, ln in enumerate(right_col):
    justified(ln, 568, 1000, 1155 + i * 22.1, body_fs)

fig.text(fx(546), fy(1383), 'D', fontsize=8.5, fontweight='bold', ha='center', va='center')
fig.text(fx(1000), fy(1384), 'https://doi.org/10.1021/acscatal.5c08326', fontsize=7, color=LINK, ha='right', va='center')
t2 = fig.text(fx(1000), fy(1395), 'XXXX, XXX, XXX–XXX', fontsize=7, ha='right', va='center', style='italic')
w2 = t2.get_window_extent(renderer).width
fig.text(fx(1000 - w2 - 3), fy(1395), 'ACS Catal.', fontsize=7, ha='right', va='center', style='italic')

fig.savefig('out.png', dpi=100, facecolor='white')
